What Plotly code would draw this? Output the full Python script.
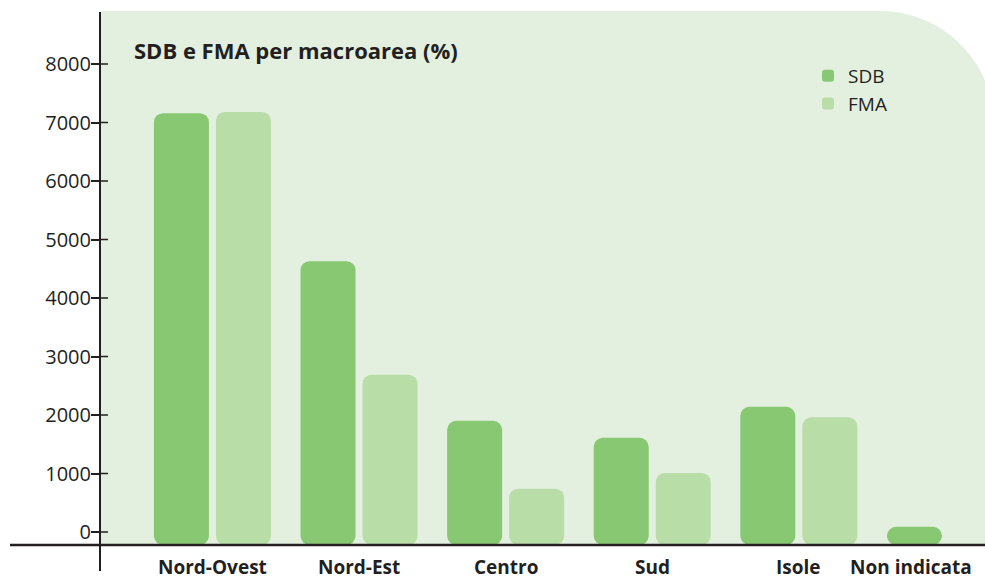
import plotly.graph_objects as go

categories = ["Nord-Ovest", "Nord-Est", "Centro", "Sud", "Isole", "Non indicata"]
sdb_values = [7160, 4630, 1900, 1610, 2140, 90]
fma_values = [7180, 2690, 740, 1010, 1960, None]
y_tick_values = [0, 1000, 2000, 3000, 4000, 5000, 6000, 7000, 8000]
title_text = "SDB e FMA per macroarea (%)"

Y_MIN, Y_MAX = -222, 8906
X_RANGE = [-0.767, 5.27]

SDB_COLOR = "#88c872"
FMA_COLOR = "#b8dda7"
PANEL = "#e3f0df"
INK = "#231f20"
FONT = "Open Sans"

W, H = 985, 579
ML, MR, MT, MB = 100, 0, 11, 34
PW, PH = W - ML - MR, H - MT - MB


def px_x(px):
    return (px - ML) / PW


def px_y(py):
    return (H - MB - py) / PH


fig = go.Figure()
fig.add_trace(go.Bar(
    name="SDB", x=categories,
    y=[None if v is None else v - Y_MIN for v in sdb_values],
    base=Y_MIN, marker=dict(color=SDB_COLOR, line=dict(width=0)),
))
fig.add_trace(go.Bar(
    name="FMA", x=categories,
    y=[None if v is None else v - Y_MIN for v in fma_values],
    base=Y_MIN, marker=dict(color=FMA_COLOR, line=dict(width=0)),
))

# Panel with rounded top-right corner
R = 114
right = 994
top = 11
bottom = H - MB
k = 0.5523 * R
path = f"M{px_x(ML+1)},{px_y(bottom)} L{px_x(ML+1)},{px_y(top)} L{px_x(right-R)},{px_y(top)} "
path += (f"C{px_x(right-R+k)},{px_y(top)} {px_x(right)},{px_y(top+R-k)} {px_x(right)},{px_y(top+R)} ")
path += f"L{px_x(right)},{px_y(bottom)} Z"

shapes = [
    dict(type="path", path=path, xref="paper", yref="paper",
         fillcolor=PANEL, line=dict(width=0), layer="below"),
    dict(type="line", xref="paper", yref="paper", x0=px_x(10), x1=px_x(985),
         y0=0, y1=0, line=dict(color=INK, width=2.5), layer="above"),
    dict(type="line", xref="paper", yref="paper", x0=0, x1=0,
         y0=px_y(571), y1=px_y(12), line=dict(color=INK, width=2), layer="above"),
]
for t in y_tick_values:
    shapes.append(dict(type="line", xref="paper", yref="y", x0=0, x1=px_x(108),
                       y0=t, y1=t, line=dict(color=INK, width=1.5), layer="above"))

annotations = [
    dict(text=f"<b>{title_text}</b>", xref="paper", yref="paper", x=px_x(132), y=px_y(50),
         xanchor="left", yanchor="middle", showarrow=False,
         font=dict(family=FONT, size=22, color=INK)),
]
for i, c in enumerate(categories):
    if i == len(categories) - 1:
        annotations.append(dict(text=f"<b>{c}</b>", xref="paper", yref="paper",
                                x=px_x(974), y=px_y(567), xanchor="right", yanchor="middle",
                                showarrow=False, font=dict(family=FONT, size=19, color=INK)))
    else:
        annotations.append(dict(text=f"<b>{c}</b>", xref="x", yref="paper",
                                x=c, y=px_y(567), xanchor="center", yanchor="middle",
                                showarrow=False, font=dict(family=FONT, size=19, color=INK)))

fig.update_layout(
    width=W, height=H,
    margin=dict(l=ML, r=MR, t=MT, b=MB, pad=0),
    paper_bgcolor="white", plot_bgcolor="rgba(0,0,0,0)",
    barmode="group", bargap=0.154, bargroupgap=0.113, barcornerradius=9,
    showlegend=True,
    legend=dict(x=px_x(808), y=px_y(57), xanchor="left", yanchor="top",
                bgcolor="rgba(0,0,0,0)", font=dict(family=FONT, size=19, color=INK),
                tracegroupgap=0, itemwidth=30),
    shapes=shapes, annotations=annotations,
    font=dict(family=FONT, color=INK),
)
fig.update_xaxes(type="category", range=X_RANGE, showticklabels=False, ticks="",
                 showgrid=False, zeroline=False, showline=False, fixedrange=True)
fig.update_yaxes(range=[Y_MIN, Y_MAX], tickvals=y_tick_values, ticks="outside",
                 ticklen=8, tickwidth=1.5, tickcolor=INK, showgrid=False, zeroline=False,
                 showline=False, ticklabelstandoff=-4,
                 tickfont=dict(family=FONT, size=20, color=INK))

fig.write_html(
    "out.html",
    config={"displayModeBar": False},
    post_script="document.body.style.margin='0';document.body.style.overflow='hidden';",
)
